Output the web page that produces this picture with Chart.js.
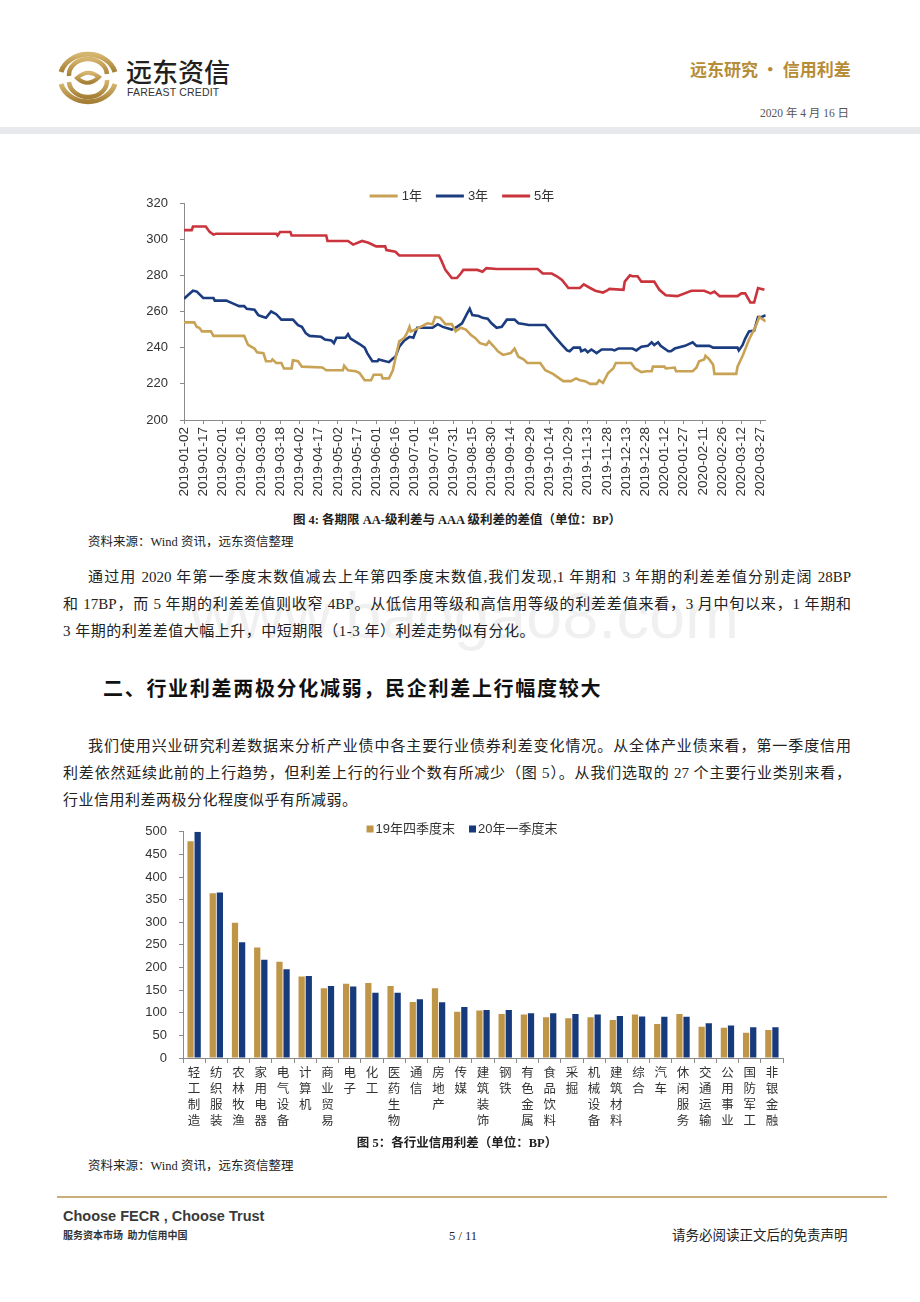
<!DOCTYPE html>
<html>
<head>
<meta charset="utf-8">
<script src="https://cdn.jsdelivr.net/npm/chart.js@4.4.1/dist/chart.umd.min.js"></script>
<style>
  body { margin: 0; width: 920px; height: 1302px; position: relative; overflow: hidden; background: #fff;
         font-family: "Liberation Serif", "Noto Sans CJK SC", serif; color: #222; }
  .abs { position: absolute; white-space: nowrap; }
  .txt { position: absolute; white-space: nowrap; font-size: 15px; line-height: 20px; }
  .just { text-align: justify; text-align-last: justify; }
  .cap { position: absolute; left: 0; width: 914px; text-align: center; font-size: 12.5px; font-weight: bold; line-height: 16px; }
  .src { position: absolute; left: 88px; font-size: 12.5px; line-height: 16px; }
  canvas { position: absolute; }
</style>
</head>
<body>

<!-- 页眉 -->
<svg class="abs" style="left:55px;top:50px" width="66" height="56" viewBox="0 0 66 56">
  <defs>
    <linearGradient id="gold" x1="0" y1="0" x2="0" y2="1">
      <stop offset="0" stop-color="#d6b56e"/><stop offset="1" stop-color="#a57f36"/>
    </linearGradient>
  </defs>
  <path d="M6 22 A28 24 0 0 1 60 22" fill="none" stroke="url(#gold)" stroke-width="5"/>
  <path d="M6 34 A28 24 0 0 0 60 34" fill="none" stroke="url(#gold)" stroke-width="5"/>
  <path d="M14 26 A19 16 0 0 1 52 24" fill="none" stroke="url(#gold)" stroke-width="4.5"/>
  <path d="M14 32 A19 16 0 0 0 52 30" fill="none" stroke="url(#gold)" stroke-width="4.5"/>
  <path d="M22 28 Q33 18 44 27 Q33 38 22 28 Z" fill="none" stroke="url(#gold)" stroke-width="4"/>
</svg>
<div class="abs" style="left:126px;top:55px;font-family:'Noto Sans CJK SC';font-size:26px;font-weight:500;color:#231f20;line-height:32px">远东资信</div>
<div class="abs" style="left:127px;top:86px;font-family:'Liberation Sans';font-size:10.5px;color:#333;letter-spacing:0.2px">FAREAST CREDIT</div>
<div class="abs" style="left:690px;top:57px;font-family:'Noto Sans CJK SC';font-size:17px;font-weight:700;color:#b68c36;line-height:24px">远东研究 • 信用利差</div>
<div class="abs" style="left:760px;top:106px;font-size:11.5px;color:#555;line-height:14px">2020 年 4 月 16 日</div>
<div class="abs" style="left:0;top:127px;width:920px;height:7px;background:#e7e9ed"></div>

<!-- 图4 -->
<canvas id="lineChart" width="650" height="325" style="left:130px;top:180px"></canvas>
<div class="cap" style="top:512px">图 4: 各期限 AA-级利差与 AAA 级利差的差值（单位：BP）</div>
<div class="src" style="top:534px">资料来源：Wind 资讯，远东资信整理</div>

<!-- 正文 -->
<div class="txt just" style="left:88px;top:567px;width:763px">通过用 2020 年第一季度末数值减去上年第四季度末数值,我们发现,1 年期和 3 年期的利差差值分别走阔 28BP</div>
<div class="txt just" style="left:63px;top:594px;width:788px">和 17BP，而 5 年期的利差差值则收窄 4BP。从低信用等级和高信用等级的利差差值来看，3 月中旬以来，1 年期和</div>
<div class="txt" style="left:63px;top:621px;letter-spacing:0.5px">3 年期的利差差值大幅上升，中短期限（1-3 年）利差走势似有分化。</div>

<div class="abs" style="left:103px;top:674px;font-family:'Noto Sans CJK SC';font-size:20px;font-weight:700;letter-spacing:1.7px;line-height:28px;color:#111">二、行业利差两极分化减弱，民企利差上行幅度较大</div>

<div class="txt just" style="left:88px;top:736px;width:763px">我们使用兴业研究利差数据来分析产业债中各主要行业债券利差变化情况。从全体产业债来看，第一季度信用</div>
<div class="txt just" style="left:63px;top:763px;width:788px">利差依然延续此前的上行趋势，但利差上行的行业个数有所减少（图 5）。从我们选取的 27 个主要行业类别来看，</div>
<div class="txt" style="left:63px;top:790px;letter-spacing:0.5px">行业信用利差两极分化程度似乎有所减弱。</div>

<div class="abs" style="left:190px;top:576px;font-family:'Liberation Sans';font-size:65px;color:rgba(0,0,0,0.06);line-height:80px">www.baogao8.com</div>

<!-- 图5 -->
<canvas id="barChart" width="665" height="325" style="left:130px;top:812px"></canvas>
<div class="cap" style="top:1135px">图 5：各行业信用利差（单位：BP）</div>
<div class="src" style="top:1158px">资料来源：Wind 资讯，远东资信整理</div>

<!-- 页脚 -->
<div class="abs" style="left:57px;top:1196px;width:830px;height:2px;background:#c9ad7a"></div>
<div class="abs" style="left:63px;top:1207px;font-family:'Liberation Sans';font-size:14.5px;font-weight:bold;color:#3a3a3a;line-height:18px">Choose FECR , Choose Trust</div>
<div class="abs" style="left:63px;top:1228px;font-family:'Noto Sans CJK SC';font-size:10px;font-weight:700;color:#333;line-height:14px">服务资本市场&nbsp;&nbsp;助力信用中国</div>
<div class="abs" style="left:449px;top:1228px;font-size:12.5px;line-height:16px">5 / 11</div>
<div class="abs" style="left:672px;top:1227px;font-size:13.5px;line-height:18px">请务必阅读正文后的免责声明</div>

<script>
// ---------- 图4 数据：距 2019-01-02 的天数 与 利差差值(BP) ----------
const tickLabels = [
  '2019-01-02','2019-01-17','2019-02-01','2019-02-16','2019-03-03','2019-03-18','2019-04-02','2019-04-17',
  '2019-05-02','2019-05-17','2019-06-01','2019-06-16','2019-07-01','2019-07-16','2019-07-31','2019-08-15',
  '2019-08-30','2019-09-14','2019-09-29','2019-10-14','2019-10-29','2019-11-13','2019-11-28','2019-12-13',
  '2019-12-28','2020-01-12','2020-01-27','2020-02-11','2020-02-26','2020-03-12','2020-03-27'
];

const days1Y = [0,8,10,12,14,21,23,47,50,55,57,62,64,68,69,72,76,78,84,85,89,92,108,111,124,125,128,134,137,141,146,148,154,155,160,163,165,168,172,174,176,177,182,190,194,196,200,204,209,212,216,220,224,227,231,236,238,242,245,249,255,258,261,265,268,278,282,288,291,296,302,306,309,313,317,322,324,327,331,335,337,349,352,357,361,365,366,375,376,383,384,397,400,402,406,407,410,413,414,431,432,436,441,446,449,452,454];
const spread1Y = [254,254,251.5,251,249,249,246.5,246.5,241.5,239.5,237.5,237,232.5,232.5,233.5,231.5,231.5,228.5,228.5,233,232.5,229.5,229,227.5,227.5,230,227.5,227,226,222,222,225,225,223,223,227.5,234,243.5,245.5,248,251.5,249,250.5,253.5,253,257,256.5,253,253,249,251,250,247,245.5,242.5,241.5,243.5,240.5,238,236,237,239.5,235,233.5,231.5,231.5,227.5,225.5,224,221.5,221.5,223,222,221.5,220,220,222,220.5,226,228.5,231.5,231.5,228.5,226.5,227,227,229.5,229.5,228.5,229,227,227,229,232.5,233.5,235.5,233.5,230.5,225.5,225.5,229.5,235.5,244.5,251.5,257,255.5,254.5];

const days3Y = [0,3,7,10,15,23,24,33,38,43,47,49,55,58,62,64,68,72,76,85,89,92,95,98,107,110,115,117,119,126,128,130,137,141,143,147,151,152,160,163,165,168,172,176,179,182,194,198,202,209,213,217,221,223,225,230,233,237,240,244,248,252,258,261,266,269,282,286,290,295,299,301,304,309,310,313,315,318,322,326,334,336,339,350,353,357,362,365,367,370,372,378,380,383,391,397,400,410,413,432,433,436,438,441,445,448,451,454];
const spread3Y = [267,269,271.5,271,267.5,267.5,266,266,264.5,263,263,261.5,261,258,257,256.5,260,258.5,255.5,255.5,252.5,251.5,248,246.5,246,244.5,244,242.5,245.5,245.5,247.5,245,242,240,237,232.5,232.5,233.5,232,234,235,240.5,244,246,245.5,251,251,253,251.5,250,251.5,253.5,259,261.5,258,257.5,256.5,256,253.5,251,251.5,255.5,255.5,253.5,253,252.5,252.5,249,245.5,241.5,238.5,238,240,240,238,239,237.5,239,237,239,239,238.5,239.5,239.5,238.5,240.5,241,243,241.5,243,241,238,238,239.5,241,243,241,241,240,240,238.5,241.5,245,249,249.5,257,257,258];

const days5Y = [0,6,7,17,20,23,25,72,73,75,83,84,111,112,128,132,139,144,150,157,158,165,168,199,201,204,209,213,216,218,229,233,236,244,276,280,287,291,295,300,309,312,317,321,327,330,332,343,344,348,350,354,357,367,371,376,385,396,406,411,414,418,432,435,438,442,445,448,453];
const spread5Y = [305,305,307,307,304,302.5,303,303,302,304,304,302,302,299,299,297,299,298,296,296,294,293,291,291,288,283,278.5,278.5,281,283,283,282,284,283.5,283.5,281,281,279.5,277.5,273,273,275,273,271.5,270.5,271.5,272.5,272,276.5,280,279.5,279.5,276.5,276.5,272,269,268.5,271.5,271.5,270,271,268.5,268.5,270,270,265,265,273,272];

// ---------- 图5 数据 ----------
const industries = ['轻工制造','纺织服装','农林牧渔','家用电器','电气设备','计算机','商业贸易','电子','化工','医药生物',
  '通信','房地产','传媒','建筑装饰','钢铁','有色金属','食品饮料','采掘','机械设备','建筑材料','综合','汽车',
  '休闲服务','交通运输','公用事业','国防军工','非银金融'];
const q4_2019 = [479,364,299,244,213,180,154,164,166,159,124,154,102,105,97,96,90,88,90,84,96,75,97,69,67,56,62];
const q1_2020 = [500,366,256,217,196,181,159,158,144,144,130,123,113,106,106,99,99,97,96,93,92,91,91,77,72,68,68];

Chart.defaults.font.family = '"Liberation Sans", "Noto Sans CJK SC", sans-serif';
Chart.defaults.color = '#333';

// 图例画在指定位置
const topLegend = {
  id: 'topLegend',
  afterDraw(chart, args, opts) {
    const ctx = chart.ctx;
    ctx.save();
    ctx.font = '13px "Liberation Sans", "Noto Sans CJK SC", sans-serif';
    ctx.textBaseline = 'middle';
    const items = chart.data.datasets.map(d => ({ text: d.label, color: opts.kind === 'line' ? d.borderColor : d.backgroundColor }));
    const widths = items.map(it => opts.box + opts.gap + ctx.measureText(it.text).width);
    const total = widths.reduce((a, b) => a + b, 0) + opts.spacing * (items.length - 1);
    let x = opts.cx - total / 2;
    items.forEach((it, i) => {
      ctx.fillStyle = it.color;
      if (opts.kind === 'line') ctx.fillRect(x, opts.cy - 1.5, opts.box, 3);
      else ctx.fillRect(x, opts.cy - opts.box / 2, opts.box, opts.box);
      ctx.fillStyle = '#333';
      ctx.fillText(it.text, x + opts.box + opts.gap, opts.cy + 0.5);
      x += widths[i] + opts.spacing;
    });
    ctx.restore();
  }
};

const axisGrey = '#8a8a8a';

function toPoints(xs, ys) {
  return xs.map((d, i) => ({ x: d, y: ys[i] }));
}

new Chart(document.getElementById('lineChart'), {
  type: 'line',
  data: {
    datasets: [
      { label: '1年', data: toPoints(days1Y, spread1Y), borderColor: '#c8a255' },
      { label: '3年', data: toPoints(days3Y, spread3Y), borderColor: '#1c3c80' },
      { label: '5年', data: toPoints(days5Y, spread5Y), borderColor: '#c9343d' }
    ]
  },
  options: {
    responsive: false,
    animation: false,
    elements: { point: { radius: 0 }, line: { borderWidth: 2.6, tension: 0 } },
    layout: { padding: { top: 23, right: 12, left: 0, bottom: 0 } },
    plugins: {
      legend: { display: false },
      tooltip: { enabled: false },
      topLegend: { kind: 'line', cx: 332, cy: 16, box: 28, gap: 4, spacing: 14 }
    },
    scales: {
      x: {
        type: 'linear', min: 0, max: 454,
        afterBuildTicks: s => { s.ticks = tickLabels.map((_, i) => ({ value: i * 15 })); },
        afterFit: s => { s.height = 85; },
        ticks: { autoSkip: false, minRotation: 90, maxRotation: 90, padding: 3,
                 font: { size: 13.6 }, color: '#333',
                 callback: (v, i) => tickLabels[i] },
        grid: { drawOnChartArea: false, tickLength: 4, color: axisGrey },
        border: { color: axisGrey, width: 1 }
      },
      y: {
        min: 200, max: 320,
        afterFit: s => { s.width = 54; },
        ticks: { stepSize: 20, padding: 12, font: { size: 13 }, color: '#333' },
        grid: { drawOnChartArea: false, tickLength: 4, color: axisGrey },
        border: { color: axisGrey, width: 1 }
      }
    }
  },
  plugins: [topLegend]
});

new Chart(document.getElementById('barChart'), {
  type: 'bar',
  data: {
    labels: industries.map(s => s.split('')),
    datasets: [
      { label: '19年四季度末', data: q4_2019, backgroundColor: '#bf9548' },
      { label: '20年一季度末', data: q1_2020, backgroundColor: '#173a7c' }
    ]
  },
  options: {
    responsive: false,
    animation: false,
    layout: { padding: { top: 16, right: 12, left: 0, bottom: 0 } },
    datasets: { bar: { categoryPercentage: 0.64, barPercentage: 0.88 } },
    plugins: {
      legend: { display: false },
      tooltip: { enabled: false },
      topLegend: { kind: 'box', cx: 332, cy: 17, box: 7, gap: 2, spacing: 14 }
    },
    scales: {
      x: {
        afterFit: s => { s.height = 79; },
        ticks: { autoSkip: false, maxRotation: 0, minRotation: 0, padding: 3,
                 font: { size: 12.5, lineHeight: 1.28 }, color: '#333' },
        grid: { drawOnChartArea: false, tickLength: 5, color: axisGrey, offset: true },
        border: { color: axisGrey, width: 1 }
      },
      y: {
        min: 0, max: 500,
        afterFit: s => { s.width = 53; },
        ticks: { stepSize: 50, padding: 12, font: { size: 13 }, color: '#333' },
        grid: { drawOnChartArea: false, tickLength: 4, color: axisGrey },
        border: { color: axisGrey, width: 1 }
      }
    }
  },
  plugins: [topLegend]
});
</script>
</body>
</html>
